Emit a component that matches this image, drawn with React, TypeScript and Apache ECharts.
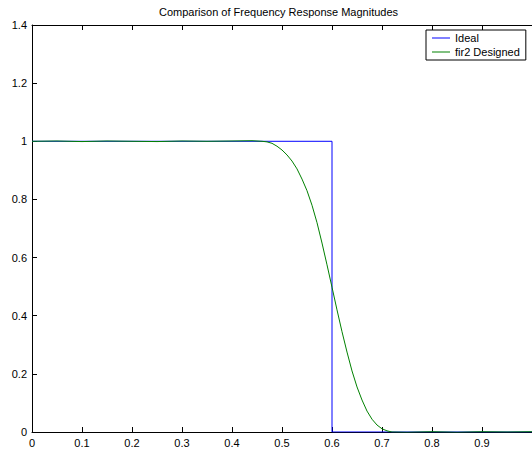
import React, { useEffect, useRef } from "react";
import * as echarts from "echarts";

const titleText = "Comparison of Frequency Response Magnitudes";
const seriesNames = ["Ideal", "fir2 Designed"];
const xTicks = [0, 0.1, 0.2, 0.3, 0.4, 0.5, 0.6, 0.7, 0.8, 0.9, 1];
const yTicks = [0, 0.2, 0.4, 0.6, 0.8, 1, 1.2, 1.4];

// Ideal response: breakpoints
const idealX = [0, 0.6, 0.6, 1];
const idealY = [1, 1, 0, 0];

// fir2 designed magnitude response
const firX = [
  0, 0.05, 0.1, 0.15, 0.2, 0.25, 0.3, 0.35, 0.4, 0.44, 0.46, 0.47, 0.48, 0.49,
  0.5, 0.51, 0.52, 0.53, 0.54, 0.55, 0.56, 0.57, 0.58, 0.59, 0.6, 0.61, 0.62,
  0.63, 0.64, 0.65, 0.66, 0.67, 0.68, 0.69, 0.7, 0.71, 0.72, 0.75, 0.8, 0.85,
  0.9, 0.95, 1,
];
const firY = [
  1, 1.001, 0.999, 1.001, 1.0, 0.999, 1.001, 1.0, 1.001, 1.002, 1.0, 0.998,
  0.993, 0.983, 0.97, 0.953, 0.932, 0.905, 0.87, 0.83, 0.78, 0.72, 0.65, 0.575,
  0.498, 0.42, 0.345, 0.275, 0.21, 0.155, 0.11, 0.072, 0.044, 0.024, 0.011,
  0.004, 0.0, -0.001, 0.001, -0.001, 0.001, 0.0, 0.001,
];

const FONT = "'Liberation Sans', Arial, Helvetica, sans-serif";
const fmt = (v: number) => String(Math.round(v * 10) / 10);

export default function App() {
  const ref = useRef<HTMLDivElement>(null);
  useEffect(() => {
    if (!ref.current) return;
    const chart = echarts.init(ref.current, undefined, { renderer: "svg" });
    const axisCommon = {
      type: "value" as const,
      axisLine: { show: true, lineStyle: { color: "#000", width: 1 } },
      axisTick: { show: true, inside: true, length: 5, lineStyle: { color: "#000" } },
      splitLine: { show: false },
    };
    chart.setOption({
      animation: false,
      backgroundColor: "#fff",
      title: {
        text: titleText,
        left: 159,
        top: 6,
        padding: 0,
        textStyle: { fontFamily: FONT, fontSize: 11, fontWeight: "normal", color: "#000" },
      },
      legend: {
        data: seriesNames,
        orient: "vertical",
        left: 426,
        top: 30,
        padding: [1, 6, 1, 6],
        itemGap: 0,
        itemWidth: 18,
        itemHeight: 1,
        icon: "rect",
        borderColor: "#000",
        borderWidth: 1,
        borderRadius: 0,
        backgroundColor: "#fff",
        textStyle: { fontFamily: FONT, fontSize: 11, color: "#000", lineHeight: 14 },
      },
      grid: { left: 32, top: 25, width: 503, height: 407 },
      xAxis: [
        {
          ...axisCommon,
          min: 0,
          max: 1,
          interval: 0.1,
          position: "bottom",
          axisLabel: {
            show: true,
            showMaxLabel: false,
            margin: 5,
            fontFamily: FONT,
            fontSize: 11,
            color: "#000",
            formatter: (v: number) => fmt(v),
          },
        },
        {
          ...axisCommon,
          min: 0,
          max: 1,
          interval: 0.1,
          position: "top",
          axisLabel: { show: false },
        },
      ],
      yAxis: [
        {
          ...axisCommon,
          min: 0,
          max: 1.4,
          interval: 0.2,
          position: "left",
          axisLabel: {
            show: true,
            margin: 5,
            fontFamily: FONT,
            fontSize: 11,
            color: "#000",
            formatter: (v: number) => fmt(v),
          },
        },
      ],
      series: [
        {
          name: seriesNames[0],
          type: "line",
          symbol: "none",
          lineStyle: { color: "#0000ff", width: 1 },
          itemStyle: { color: "#0000ff" },
          data: idealX.map((x, i) => [x, idealY[i]]),
          z: 2,
        },
        {
          name: seriesNames[1],
          type: "line",
          symbol: "none",
          smooth: false,
          lineStyle: { color: "#008000", width: 1 },
          itemStyle: { color: "#008000" },
          data: firX.map((x, i) => [x, firY[i]]),
          z: 3,
        },
      ],
    });
    return () => chart.dispose();
  }, []);
  return (
    <div
      ref={ref}
      style={{ position: "fixed", left: 0, top: 0, width: 532, height: 449 }}
    />
  );
}
